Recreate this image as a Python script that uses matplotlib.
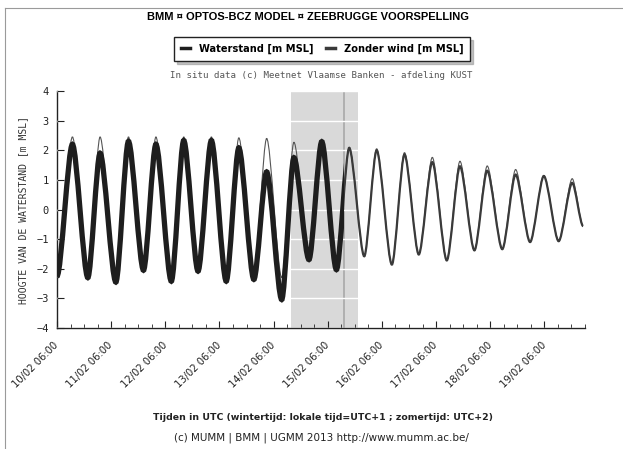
import matplotlib
matplotlib.use("Agg")
import matplotlib.pyplot as plt
import matplotlib.dates as mdates
from matplotlib.path import Path
from matplotlib.patches import PathPatch, Rectangle
from matplotlib.lines import Line2D
from datetime import datetime

tijden = ["10/02 06:00", "10/02 12:50", "10/02 19:40", "11/02 01:05", "11/02 08:05",
          "11/02 13:40", "11/02 20:20", "12/02 01:50", "12/02 08:40", "12/02 14:10",
          "12/02 20:30", "13/02 02:25", "13/02 09:00", "13/02 14:35", "13/02 21:15",
          "14/02 02:55", "14/02 09:35", "14/02 15:00", "14/02 21:40", "15/02 03:20",
          "15/02 09:50", "15/02 15:30", "15/02 22:10", "16/02 03:40", "16/02 10:25",
          "16/02 16:00", "16/02 22:20", "17/02 04:20", "17/02 10:45", "17/02 16:35",
          "17/02 23:00", "18/02 04:40", "18/02 11:20", "18/02 17:15", "18/02 23:40",
          "19/02 05:45", "19/02 12:20", "19/02 18:20", "19/02 23:10"]

waterstand = [-2.25, 2.2, -2.3, 1.9, -2.45, 2.3, -2.05, 2.2, -2.42, 2.33,
              -2.08, 2.33, -2.42, 2.08, -2.36, 1.27, -3.04, 1.75, -1.69, 2.29,
              -2.03, 2.08, -1.58, 2.0, -1.86, 1.86, -1.52, 1.6, -1.72, 1.46,
              -1.38, 1.31, -1.34, 1.18, -1.1, 1.13, -1.07, 0.9, -0.56]

zonder_wind = [-2.3, 2.45, -2.3, 2.45, -2.45, 2.45, -2.05, 2.45, -2.42, 2.45,
               -2.08, 2.45, -2.4, 2.42, -2.2, 2.4, -2.3, 2.27, -1.6, 2.31,
               -2.03, 2.1, -1.58, 2.05, -1.86, 1.92, -1.52, 1.76, -1.72, 1.63,
               -1.38, 1.47, -1.34, 1.35, -1.1, 1.15, -1.07, 1.04, -0.56]

begin = "10/02 06:00"
einde = "20/02 00:00"
nu = "15/02 13:00"
schaduw_begin = "14/02 13:30"
schaduw_einde = "15/02 19:20"


def naar_num(s):
    return mdates.date2num(datetime.strptime("2013/" + s, "%Y/%d/%m %H:%M"))


def getij_pad(ts, vs):
    # vloeiende curve tussen de extremen (horizontale raaklijnen)
    verts = [(ts[0], vs[0])]
    codes = [Path.MOVETO]
    for i in range(1, len(ts)):
        dt = ts[i] - ts[i - 1]
        verts += [(ts[i - 1] + 0.28 * dt, vs[i - 1]),
                  (ts[i] - 0.28 * dt, vs[i]),
                  (ts[i], vs[i])]
        codes += [Path.CURVE4] * 3
    return Path(verts, codes)


t = [naar_num(s) for s in tijden]

fig = plt.figure(figsize=(6.23, 4.49), dpi=100)
ax = fig.add_axes([57 / 623, 1 - 328 / 449, 528 / 623, 237 / 449])

ax.axvspan(naar_num(schaduw_begin), naar_num(schaduw_einde), color="#d9d9d9", zorder=0, lw=0)
ax.axvline(naar_num(nu), color="#a8a8a8", lw=1.2, zorder=1)
ax.grid(True, axis="y", color="white", lw=1.0, zorder=1)
ax.set_axisbelow(False)

ax.add_patch(PathPatch(getij_pad(t, zonder_wind), fill=False, edgecolor="#555555",
                       lw=0.8, zorder=3))
ax.add_patch(PathPatch(getij_pad(t, waterstand), fill=False, edgecolor="#3a3a3a",
                       lw=1.6, zorder=4))
dik = PathPatch(getij_pad(t, waterstand), fill=False, edgecolor="#1e1e1e", lw=3.8, zorder=5)
ax.add_patch(dik)
knip = Rectangle((naar_num(begin), -4), naar_num(nu) - naar_num(begin), 8,
                 transform=ax.transData)
dik.set_clip_path(knip)

ax.set_xlim(naar_num(begin), naar_num(einde))
ax.set_ylim(-4, 4)
ax.set_yticks(range(-4, 5))

ax.xaxis.set_major_locator(mdates.HourLocator(byhour=[6]))
ax.xaxis.set_minor_locator(mdates.HourLocator(byhour=[0, 12, 18]))
ax.xaxis.set_major_formatter(mdates.DateFormatter("%d/%m %H:%M"))

for s in ["top", "right"]:
    ax.spines[s].set_visible(False)
for s in ["left", "bottom"]:
    ax.spines[s].set_color("#222222")
    ax.spines[s].set_linewidth(1.0)

ax.tick_params(axis="y", direction="in", length=5, labelsize=7.5, pad=6, colors="#222222")
ax.tick_params(axis="x", which="major", direction="in", length=5, labelsize=7.2, pad=11,
               colors="#222222")
ax.tick_params(axis="x", which="minor", direction="in", length=3, colors="#222222")
for lbl in ax.get_yticklabels():
    lbl.set_family("DejaVu Sans Mono")
for lbl in ax.get_xticklabels():
    lbl.set_rotation(45)
    lbl.set_ha("right")
    lbl.set_va("center")
    lbl.set_rotation_mode("anchor")

ax.set_ylabel("HOOGTE VAN DE WATERSTAND [m MSL]", family="DejaVu Sans Mono",
              fontsize=7, color="#333333", labelpad=6)

fig.text(0.495, 1 - 17 / 449, "BMM ¤ OPTOS-BCZ MODEL ¤ ZEEBRUGGE VOORSPELLING",
         ha="center", va="center", fontsize=8.0, fontweight="bold",
         family=["Liberation Sans", "DejaVu Sans"])

handles = [Line2D([], [], color="#1e1e1e", lw=2.5),
           Line2D([], [], color="#3a3a3a", lw=2.5)]
leg = fig.legend(handles, ["Waterstand [m MSL]", "Zonder wind [m MSL]"],
                 loc="center", bbox_to_anchor=(0.517, 1 - 49 / 449), ncol=2,
                 fancybox=False, shadow={"color": "#888888"}, edgecolor="#222222",
                 framealpha=1, handlelength=0.9, columnspacing=1.3, borderpad=0.7,
                 handletextpad=0.9, prop={"size": 7.1, "weight": "bold"})
leg.get_frame().set_linewidth(1.0)

fig.text(0.516, 1 - 75 / 449, "In situ data (c) Meetnet Vlaamse Banken - afdeling KUST",
         ha="center", va="center", fontsize=6.55, color="#555555",
         family="DejaVu Sans Mono")
fig.text(0.518, 1 - 418 / 449,
         "Tijden in UTC (wintertijd: lokale tijd=UTC+1 ; zomertijd: UTC+2)",
         ha="center", va="center", fontsize=6.75, fontweight="bold", color="#222222")
fig.text(0.516, 1 - 438 / 449, "(c) MUMM | BMM | UGMM 2013 http://www.mumm.ac.be/",
         ha="center", va="center", fontsize=7.5, color="#222222")

# kader van de afbeelding
fig.add_artist(Line2D([5 / 623, 5 / 623], [0, 1 - 8 / 449], transform=fig.transFigure,
                      color="#9a9a9a", lw=0.8))
fig.add_artist(Line2D([5 / 623, 1], [1 - 8 / 449, 1 - 8 / 449], transform=fig.transFigure,
                      color="#9a9a9a", lw=0.8))

fig.savefig("out.png", dpi=100)
